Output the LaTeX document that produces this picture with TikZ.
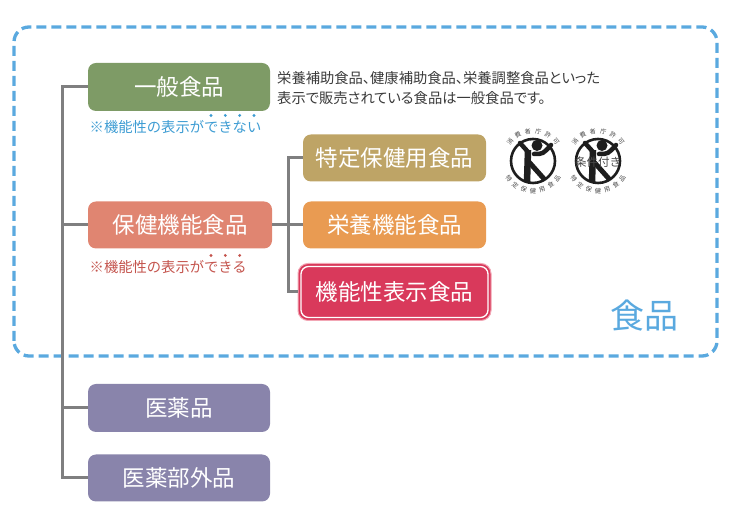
\documentclass[tikz,border=0pt]{standalone}
\usepackage{fontspec}
\setmainfont{Noto Sans CJK JP}
\newfontfamily\descfont{Noto Sans CJK JP}[RawFeature=+palt]

\definecolor{ippangreen}{HTML}{7E9B66}
\definecolor{hokensalmon}{HTML}{E08571}
\definecolor{tokuhotan}{HTML}{BEA466}
\definecolor{eiyoorange}{HTML}{E99B52}
\definecolor{kinoured}{HTML}{D9395B}
\definecolor{kinoupink}{HTML}{F2A7B5}
\definecolor{iyakupurple}{HTML}{8984AB}
\definecolor{linkgray}{HTML}{7F7F80}
\definecolor{frameblue}{HTML}{5AA9DF}
\definecolor{noteblue}{HTML}{3D9CD3}
\definecolor{notered}{HTML}{C4544D}
\definecolor{desctext}{HTML}{3A3A3A}
\definecolor{logoblack}{HTML}{1E1E1E}
\definecolor{logogray}{HTML}{4A4A4A}

\begin{document}
\begin{tikzpicture}[x=1pt, y=1pt,
  catbox/.style={rounded corners=8pt, text=white, minimum width=182pt,
    minimum height=48pt, inner sep=0pt, font=\fontsize{22.5}{22.5}\selectfont},
  link/.style={draw=linkgray, line width=3pt},
  note/.style={anchor=west, inner sep=0pt, font=\fontsize{14.3}{14.3}\selectfont},
  logotext/.style={inner sep=0pt, text=logogray, font=\fontsize{6.2}{6.2}\selectfont}]
  \useasboundingbox (0,0) rectangle (736,524);
  \draw[frameblue, line width=3.3pt, dash pattern=on 10pt off 5pt, rounded corners=15pt]
    (14,168) rectangle (717,497);

  \node[catbox, fill=ippangreen] (ippan) at (179,437) {一般食品};
  \node[catbox, fill=hokensalmon, minimum width=184pt, minimum height=47pt] (hoken) at (180,299) {保健機能食品};
  \node[catbox, fill=iyakupurple] (iyaku) at (179,116) {医薬品};
  \node[catbox, fill=iyakupurple, minimum height=47pt] (bugai) at (179,46) {医薬部外品};
  \node[catbox, fill=tokuhotan, minimum width=183pt, minimum height=47pt] (tokuho) at (394.5,366) {特定保健用食品};
  \node[catbox, fill=eiyoorange, minimum width=183pt, minimum height=47pt] (eiyo) at (394.5,299) {栄養機能食品};
  \node[catbox, fill=kinoured, draw=kinoupink, line width=1pt, rounded corners=10pt,
    minimum width=193pt, minimum height=57pt] (kinou) at (394.5,232) {機能性表示食品};
  \draw[white, line width=1.3pt, rounded corners=7.5pt]
    ([xshift=3.5pt,yshift=-3.5pt]kinou.north west) rectangle ([xshift=-3.5pt,yshift=3.5pt]kinou.south east);

  % connectors
  \coordinate (trunkend) at (62,46);
  \coordinate (subend) at (288,232);
  \draw[link] (ippan.west) -| (trunkend) -- (bugai.west);
  \draw[link] (hoken.west) -- (hoken.west -| trunkend);
  \draw[link] (iyaku.west) -- (iyaku.west -| trunkend);
  \draw[link] (hoken.east) -- (eiyo.west);
  \draw[link] (tokuho.west) -| (subend) -- (kinou.west);

  % notes
  \node[note, text=noteblue] (note1) at (89.5,397) {※機能性の表示ができない};
  \foreach \i in {8,...,11}
    \fill[noteblue] ([xshift={(\i+0.5)*14.3pt}, yshift=11.5pt]note1.west) circle (1.6pt);
  \node[note, text=notered] (note2) at (89.5,257) {※機能性の表示ができる};
  \foreach \i in {8,...,10}
    \fill[notered] ([xshift={(\i+0.5)*14.3pt}, yshift=11.5pt]note2.west) circle (1.6pt);

  \node[anchor=west, align=left, inner sep=0pt, text=desctext,
    font=\descfont\fontsize{14.3}{20}\selectfont] (desc) at (277,436)
    {栄養補助食品、健康補助食品、栄養調整食品といった\\表示で販売されている食品は一般食品です。};

  % marks
  \foreach \lx in {533,598} {
    \begin{scope}[shift={(\lx,363)}]
      \draw[logoblack, line width=2.6pt] (0,0) circle (22pt);
      \fill[logoblack] (4,15.5) circle (5.5pt);
      \draw[logoblack, line width=6.5pt] (-5,11) -- (-6,-21);
      \draw[logoblack, line width=5pt] (-4,-1) -- (12,-19);
      \draw[logoblack, line width=4.5pt, line cap=round] (-4,8) -- (-13,18);
      \draw[logoblack, line width=4.5pt, line cap=round] (1,7) .. controls (10,7) .. (18,16);
      \foreach \ch [count=\i] in {消,費,者,庁,許,可}
        \node[logotext, rotate={70-\i*20}] at ({160-\i*20}:30pt) {\ch};
      \foreach \ch [count=\i] in {特,定,保,健,用,食,品}
        \node[logotext, rotate={288+\i*18}] at ({198+\i*18}:30pt) {\ch};
    \end{scope}
  }
  \node[text=logogray, inner sep=0pt, font=\fontsize{11.5}{11.5}\selectfont] (joken) at (598,362) {条件付き};

  \node[text=frameblue, inner sep=0pt, font=\fontsize{34}{34}\selectfont] (shokuhin) at (644,208) {食品};
\end{tikzpicture}
\end{document}
